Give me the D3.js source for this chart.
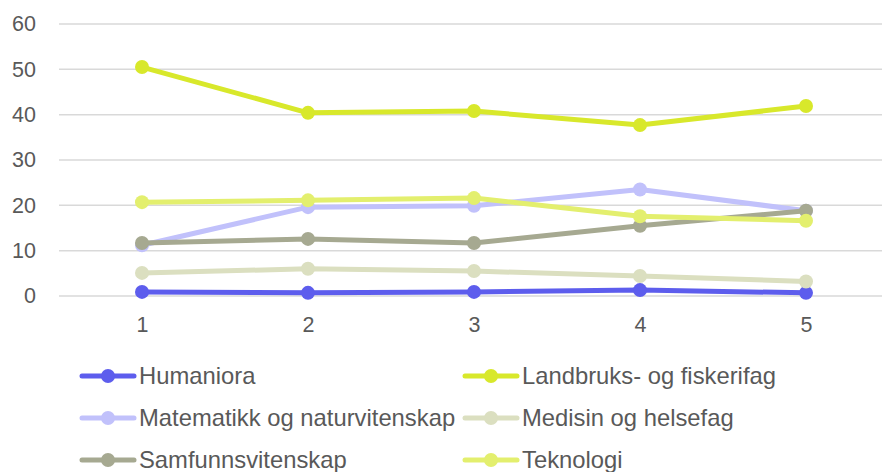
<!DOCTYPE html>
<html>
<head>
<meta charset="utf-8">
<script src="https://cdn.jsdelivr.net/npm/d3@7"></script>
<style>
  html, body { margin: 0; padding: 0; background: #fff; }
  svg { display: block; font-family: "Liberation Sans", Arial, sans-serif; }
</style>
</head>
<body>
<svg id="chart" width="882" height="472"></svg>
<script>
// ── data ──────────────────────────────────────────────
const categories = ["1", "2", "3", "4", "5"];
const yTicks = [0, 10, 20, 30, 40, 50, 60];

const seriesNames = [
  "Humaniora",
  "Landbruks- og fiskerifag",
  "Matematikk og naturvitenskap",
  "Medisin og helsefag",
  "Samfunnsvitenskap",
  "Teknologi"
];
const humaniora   = [0.9, 0.7, 0.9, 1.3, 0.7];
const landbruk    = [50.5, 40.4, 40.8, 37.7, 41.9];
const matematikk  = [11.2, 19.6, 19.9, 23.5, 18.8];
const medisin     = [5.1, 6.0, 5.5, 4.4, 3.2];
const samfunn     = [11.7, 12.6, 11.7, 15.5, 18.8];
const teknologi   = [20.7, 21.1, 21.6, 17.6, 16.6];
const seriesValues = [humaniora, landbruk, matematikk, medisin, samfunn, teknologi];
const seriesColors = ["#5d5ded", "#d8e82b", "#c1c1fb", "#dbdfc0", "#a6a991", "#e3ef6e"];

// ── layout ────────────────────────────────────────────
const svg = d3.select("#chart");
const plot = { left: 59, right: 889, top: 24, bottom: 296 };
const AXIS_FONT = 21.5;
const LEGEND_FONT = 23.8;

const x = d3.scalePoint().domain(categories)
  .range([plot.left, plot.right]).padding(0.5);
const y = d3.scaleLinear().domain([0, 60]).range([plot.bottom, plot.top]);

// gridlines
svg.append("g").selectAll("line").data(yTicks).join("line")
  .attr("x1", plot.left).attr("x2", plot.right)
  .attr("y1", d => y(d)).attr("y2", d => y(d))
  .attr("stroke", "#d9d9d9").attr("stroke-width", 1.5);

// y axis labels
const yAxis = svg.append("g")
  .attr("transform", `translate(${plot.left - 23},0)`)
  .call(d3.axisLeft(y).tickValues(yTicks).tickSize(0).tickPadding(0));
yAxis.select(".domain").remove();
yAxis.selectAll("text")
  .attr("font-size", AXIS_FONT).attr("fill", "#595959")
  .attr("font-family", "Liberation Sans, Arial, sans-serif");

// x axis labels
const xAxis = svg.append("g")
  .attr("transform", `translate(0,${plot.bottom + 21})`)
  .call(d3.axisBottom(x).tickSize(0).tickPadding(0));
xAxis.select(".domain").remove();
xAxis.selectAll("text")
  .attr("font-size", AXIS_FONT).attr("fill", "#595959")
  .attr("font-family", "Liberation Sans, Arial, sans-serif");

// lines + markers
const line = d3.line().x((d, i) => x(categories[i])).y(d => y(d));
seriesValues.forEach((vals, si) => {
  const g = svg.append("g");
  g.append("path")
    .attr("d", line(vals))
    .attr("fill", "none")
    .attr("stroke", seriesColors[si])
    .attr("stroke-width", 5)
    .attr("stroke-linejoin", "round")
    .attr("stroke-linecap", "round");
  g.selectAll("circle").data(vals).join("circle")
    .attr("cx", (d, i) => x(categories[i]))
    .attr("cy", d => y(d))
    .attr("r", 7)
    .attr("fill", seriesColors[si]);
});

// legend
const legCols = [80, 463];
const legRows = [376, 418, 460];
const leg = svg.append("g");
seriesNames.forEach((name, i) => {
  const lx = legCols[i % 2], ly = legRows[Math.floor(i / 2)];
  const g = leg.append("g").attr("transform", `translate(${lx},${ly})`);
  g.append("line").attr("x1", 2).attr("x2", 54).attr("y1", 0).attr("y2", 0)
    .attr("stroke", seriesColors[i]).attr("stroke-width", 5)
    .attr("stroke-linecap", "round");
  g.append("circle").attr("cx", 28).attr("cy", 0).attr("r", 7)
    .attr("fill", seriesColors[i]);
  g.append("text").attr("x", 59).attr("y", 0).attr("dy", "0.35em")
    .attr("font-size", LEGEND_FONT).attr("fill", "#595959")
    .text(name);
});
</script>
</body>
</html>
